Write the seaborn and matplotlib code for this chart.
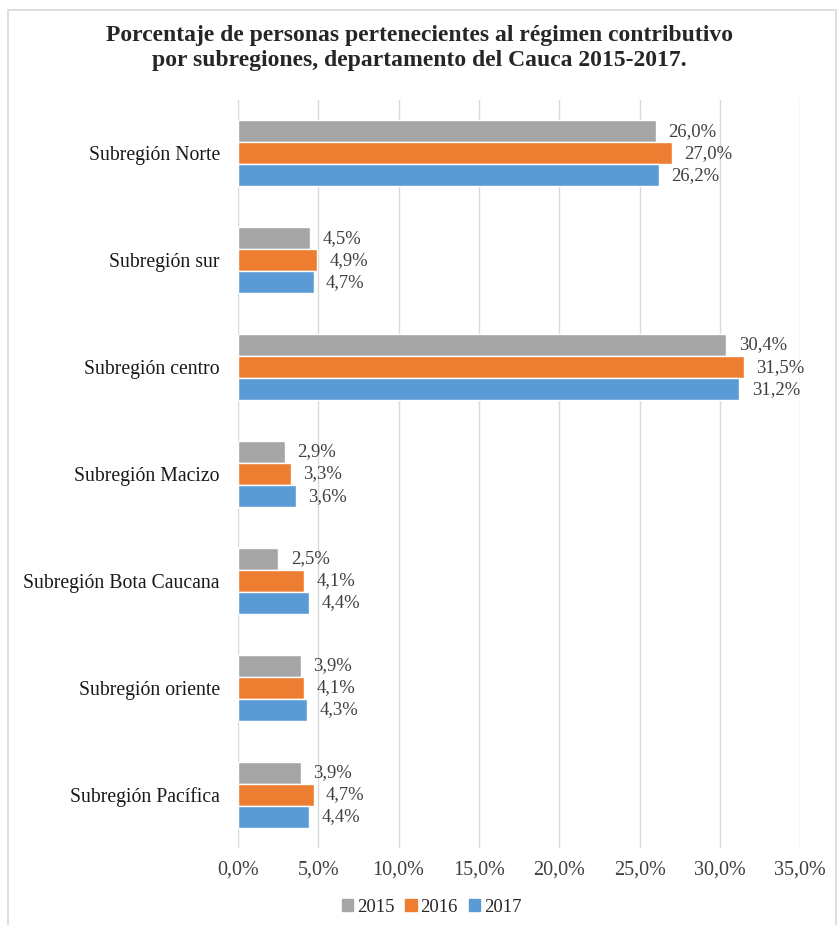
import matplotlib
matplotlib.use("Agg")
import matplotlib.pyplot as plt
import matplotlib.patches as mpatches
import seaborn as sns
import pandas as pd

subregiones = ["Subregión Norte", "Subregión sur", "Subregión centro",
               "Subregión Macizo", "Subregión Bota Caucana",
               "Subregión oriente", "Subregión Pacífica"]
anios = ["2015", "2016", "2017"]
v2015 = [26.0, 4.5, 30.4, 2.9, 2.5, 3.9, 3.9]
v2016 = [27.0, 4.9, 31.5, 3.3, 4.1, 4.1, 4.7]
v2017 = [26.2, 4.7, 31.2, 3.6, 4.4, 4.3, 4.4]
colores = ["#A5A5A5", "#ED7D31", "#5B9BD5"]

df = pd.DataFrame({
    "subregion": subregiones * 3,
    "anio": [a for a in anios for _ in subregiones],
    "valor": v2015 + v2016 + v2017,
})

sns.set_style("white")
plt.rcParams["font.family"] = ["Liberation Serif", "DejaVu Serif"]

fig = plt.figure(figsize=(8.38, 9.25), dpi=100)
ax = fig.add_axes([0.284, 0.083, 0.671, 0.809])

sns.barplot(data=df, y="subregion", x="valor", hue="anio", hue_order=anios,
            order=subregiones, palette=colores, orient="h", width=0.62,
            saturation=1, ax=ax, legend=False)

# etiquetas de valor
for cont in ax.containers:
    etiquetas = [f"{b.get_width():.1f}%".replace(".", ",") for b in cont]
    ax.bar_label(cont, labels=etiquetas, padding=9, fontsize=13.4,
                 color="#404040")

ax.set_xlim(0, 35)
ax.set_xticks([0, 5, 10, 15, 20, 25, 30, 35])
ax.set_xticklabels([f"{t:.1f}%".replace(".", ",") for t in ax.get_xticks()])
ax.tick_params(axis="x", labelsize=14.5, colors="#404040", pad=9, length=0)
ax.tick_params(axis="y", labelsize=14.2, colors="#1a1a1a", pad=13, length=0)
ax.set_xlabel("")
ax.set_ylabel("")
ax.grid(axis="x", color="#D9D9D9", linewidth=1)
ax.set_axisbelow(True)
for s in ax.spines.values():
    s.set_visible(False)

fig.suptitle("Porcentaje de personas pertenecientes al régimen contributivo\n"
             "por subregiones, departamento del Cauca 2015-2017.",
             y=0.973, fontsize=17, fontweight="bold", linespacing=1.25)

handles = [mpatches.Patch(color=c, label=a) for a, c in zip(anios, colores)]
fig.legend(handles=handles, loc="center", bbox_to_anchor=(0.515, 0.019),
           ncol=3, frameon=False, fontsize=13.5, handlelength=0.6,
           handleheight=0.6, handletextpad=0.2, columnspacing=0.6)

fig.patches.append(mpatches.Rectangle((0.01, -0.01), 0.988, 0.999, fill=False,
                                      edgecolor="#D9D9D9", linewidth=1.2,
                                      transform=fig.transFigure))

fig.savefig("out.png", dpi=100)
